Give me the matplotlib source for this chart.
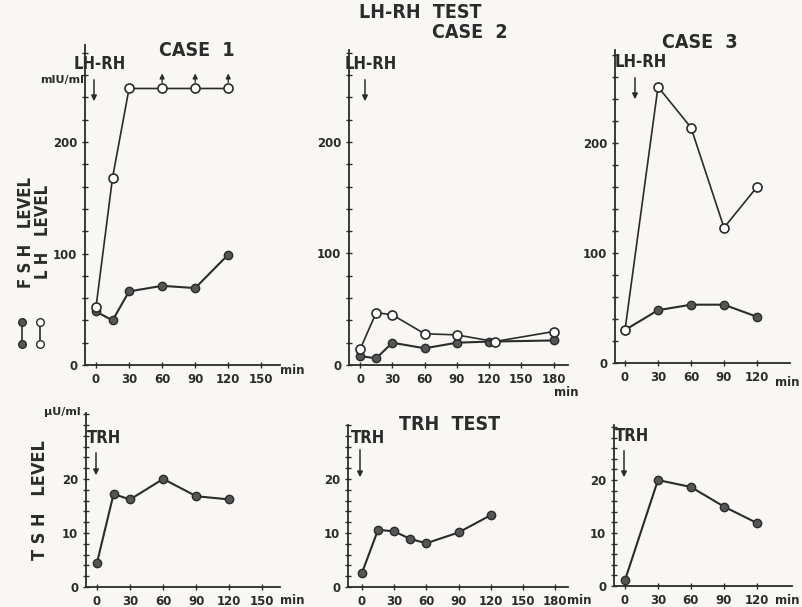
import matplotlib.pyplot as plt
from matplotlib.ticker import MultipleLocator

W, H = 802, 607

# LH-RH test (mIU/ml), open = LH, filled = FSH
t_case1 = [0, 15, 30, 60, 90, 120]
lh_case1 = [52, 168, 248, 248, 248, 248]
fsh_case1 = [48, 40, 66, 71, 69, 99]

t_lh_case2 = [0, 15, 30, 60, 90, 125, 180]
lh_case2 = [14, 47, 45, 28, 27, 21, 30]
t_fsh_case2 = [0, 15, 30, 60, 90, 120, 180]
fsh_case2 = [8, 6, 20, 15, 20, 21, 22]

t_case3 = [0, 30, 60, 90, 120]
lh_case3 = [30, 251, 214, 123, 160]
fsh_case3 = [30, 48, 53, 53, 42]

# TRH test (uU/ml)
t_tsh1 = [0, 15, 30, 60, 90, 120]
tsh1 = [4.5, 17.2, 16.2, 20.0, 16.8, 16.2]
t_tsh2 = [0, 15, 30, 45, 60, 90, 120]
tsh2 = [2.6, 10.6, 10.3, 8.9, 8.1, 10.1, 13.3]
t_tsh3 = [0, 30, 60, 90, 120]
tsh3 = [1.1, 20.0, 18.7, 15.0, 11.9]

x_ticks = [[0, 30, 60, 90, 120, 150],
           [0, 30, 60, 90, 120, 150, 180],
           [0, 30, 60, 90, 120]]

INK = "#2b2b2b"
BG = "#f8f7f4"


def fx(x):
    return x / W


def fy(y):
    return 1 - y / H


def make_ax(fig, box, xlim, ylim, xt, yt, yminor):
    x0, y0, x1, y1 = box
    ax = fig.add_axes([fx(x0), fy(y1), (x1 - x0) / W, (y1 - y0) / H])
    ax.set_facecolor("none")
    for s in ("top", "right"):
        ax.spines[s].set_visible(False)
    for s in ("left", "bottom"):
        ax.spines[s].set_color(INK)
        ax.spines[s].set_linewidth(1.3)
    ax.set_xlim(*xlim)
    ax.set_ylim(*ylim)
    ax.set_xticks(xt)
    ax.set_yticks(yt)
    ax.yaxis.set_minor_locator(MultipleLocator(yminor))
    ax.tick_params(direction="inout", length=5, width=1, colors=INK,
                   labelsize=8.5, pad=3)
    ax.tick_params(which="minor", direction="inout", length=4, width=1, colors=INK)
    for lab in ax.get_xticklabels() + ax.get_yticklabels():
        lab.set_fontweight("bold")
    return ax


fig = plt.figure(figsize=(W / 100, H / 100), dpi=100)
fig.patch.set_facecolor(BG)

top_y = [0, 100, 200]
bot_y = [0, 10, 20]
ax1 = make_ax(fig, (85, 45, 280, 365), (-10, 167), (0, 287), x_ticks[0], top_y, 20)
ax2 = make_ax(fig, (349, 50, 568, 365), (-10.3, 193.3), (0, 282.5), x_ticks[1], top_y, 20)
ax3 = make_ax(fig, (615, 50, 790, 363), (-9.1, 150), (0, 284.5), x_ticks[2], top_y, 20)
bx1 = make_ax(fig, (86, 413, 280, 587), (-10, 166), (0, 32.2), x_ticks[0], bot_y, 2)
bx2 = make_ax(fig, (348, 425, 568, 587), (-13, 192), (0, 30), x_ticks[1], bot_y, 2)
bx3 = make_ax(fig, (614, 425, 792, 586), (-10, 152), (0, 30.4), x_ticks[2], bot_y, 2)

open_kw = dict(color=INK, lw=1.2, marker="o", ms=6.5, mfc="white", mec=INK, mew=1.2)
fill_kw = dict(color=INK, lw=1.5, marker="o", ms=6, mfc="#555555", mec=INK, mew=1)

ax1.plot(t_case1, fsh_case1, **fill_kw)
ax1.plot(t_case1, lh_case1, zorder=3, **open_kw)
# values above assay range at 60-120 min
for t, v in zip(t_case1[3:], lh_case1[3:]):
    ax1.annotate("", xy=(t, v + 16), xytext=(t, v + 3),
                 arrowprops=dict(arrowstyle="-|>", color=INK, lw=1, mutation_scale=7))

ax2.plot(t_fsh_case2, fsh_case2, **fill_kw)
ax2.plot(t_lh_case2, lh_case2, zorder=3, **open_kw)

ax3.plot(t_case3, fsh_case3, **fill_kw)
ax3.plot(t_case3, lh_case3, zorder=3, **open_kw)

bx1.plot(t_tsh1, tsh1, **fill_kw)
bx2.plot(t_tsh2, tsh2, **fill_kw)
bx3.plot(t_tsh3, tsh3, **fill_kw)

# titles
tkw = dict(family="DejaVu Sans", fontstretch="condensed", fontweight="bold",
           color=INK, ha="center", va="center")
fig.text(fx(420), fy(13), "LH-RH  TEST", fontsize=14, **tkw)
fig.text(fx(470), fy(32), "CASE  2", fontsize=14, **tkw)
fig.text(fx(197), fy(50), "CASE  1", fontsize=14, **tkw)
fig.text(fx(700), fy(43), "CASE  3", fontsize=14, **tkw)
fig.text(fx(450), fy(425), "TRH  TEST", fontsize=14, **tkw)

# stimulus markers
for x, y, lab, a0, a1 in [(100, 64, "LH-RH", 77, 104), (371, 64, "LH-RH", 77, 104),
                          (641, 62, "LH-RH", 75, 102), (104, 438, "TRH", 450, 478),
                          (368, 438, "TRH", 447, 480), (632, 436, "TRH", 448, 480)]:
    fig.text(fx(x), fy(y), lab, fontsize=12, **tkw)
    ax = x - (6 if lab == "LH-RH" else 8)
    fig.add_artist(plt.Annotation("", xy=(fx(ax), fy(a1)), xytext=(fx(ax), fy(a0)),
                                  xycoords="figure fraction",
                                  arrowprops=dict(arrowstyle="-|>", color=INK, lw=1.1,
                                                  mutation_scale=8)))

# axis labels
fig.text(fx(26), fy(232), "F S H   LEVEL", rotation=90, fontsize=12, **tkw)
fig.text(fx(43), fy(232), "L H   LEVEL", rotation=90, fontsize=12, **tkw)
fig.text(fx(40), fy(500), "T S H   LEVEL", rotation=90, fontsize=13, **tkw)
fig.text(fx(62), fy(80), "mIU/ml", fontsize=8, fontweight="bold", color=INK,
         ha="center", va="center")
fig.text(fx(62), fy(412), "\u03bcU/ml", fontsize=8, fontweight="bold", color=INK,
         ha="center", va="center")

# legend glyphs
for x, mfc in [(22, "#555555"), (40, "white")]:
    fig.add_artist(plt.Line2D([fx(x), fx(x)], [fy(322), fy(344)], color=INK, lw=1.2,
                              marker="o", ms=5.5, mfc=mfc, mec=INK,
                              transform=fig.transFigure))

# "min" units
mkw = dict(fontsize=8.5, fontweight="bold", color=INK, ha="center", va="center")
for x, y in [(292, 370), (566, 392), (787, 382), (292, 600), (579, 600), (787, 600)]:
    fig.text(fx(x), fy(y), "min", **mkw)

fig.savefig("out.png", dpi=100, facecolor=BG)
